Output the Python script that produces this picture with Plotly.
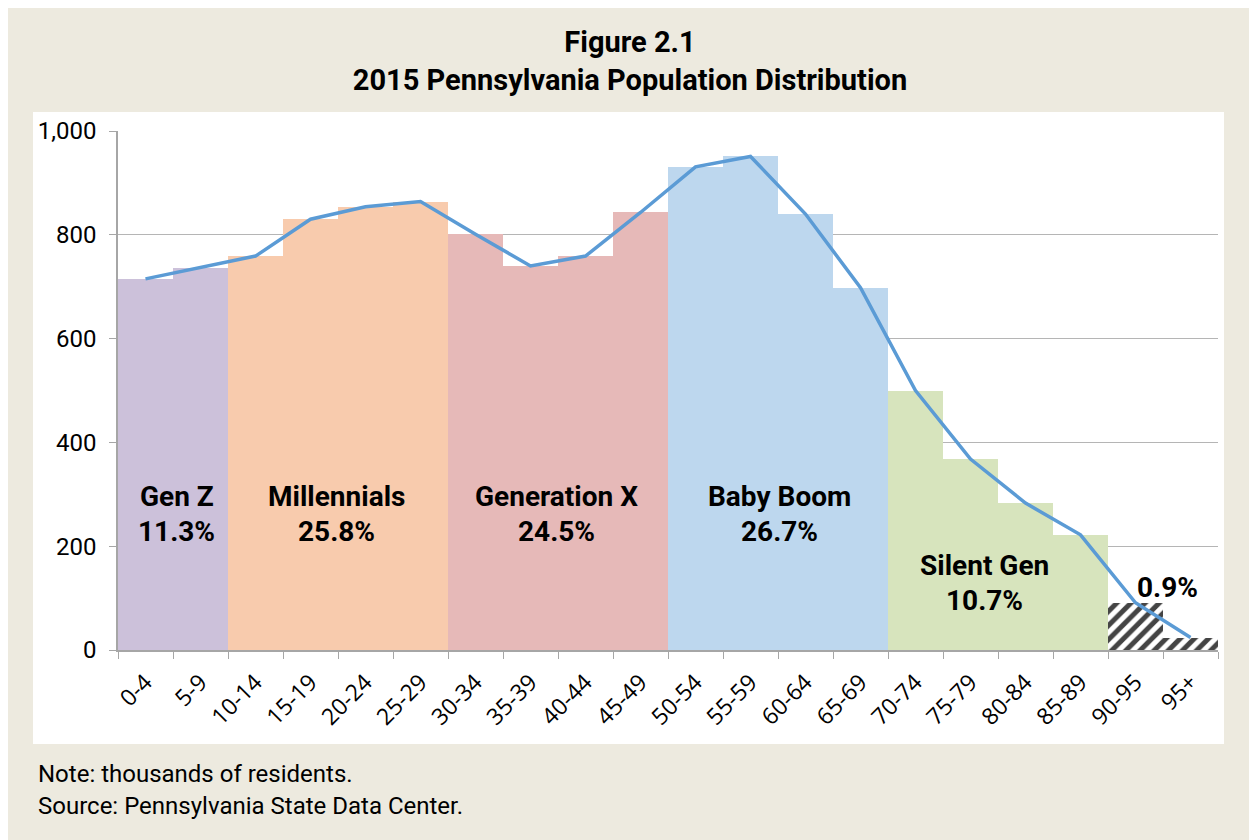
import plotly.graph_objects as go

age_groups = ["0-4", "5-9", "10-14", "15-19", "20-24", "25-29", "30-34", "35-39",
              "40-44", "45-49", "50-54", "55-59", "60-64", "65-69", "70-74", "75-79",
              "80-84", "85-89", "90-95", "95+"]
population = [715, 737, 759, 830, 854, 864, 801, 740, 759, 843, 931, 951, 840, 698,
              500, 368, 283, 222, 91, 24]
generation = ["Gen Z"] * 2 + ["Millennials"] * 4 + ["Generation X"] * 4 + \
             ["Baby Boom"] * 4 + ["Silent Gen"] * 4 + ["Oldest"] * 2
gen_colors = {"Gen Z": "#CCC1DA", "Millennials": "#F8CBAD", "Generation X": "#E6B9B8",
              "Baby Boom": "#BDD7EE", "Silent Gen": "#D7E4BD", "Oldest": "#FFFFFF"}
gen_names = ["Gen Z", "Millennials", "Generation X", "Baby Boom", "Silent Gen", ""]
gen_shares = ["11.3%", "25.8%", "24.5%", "26.7%", "10.7%", "0.9%"]
label_x = [0.57, 3.48, 7.48, 11.52, 15.26, 18.59]
name_y = [295, 295, 295, 295, 162, None]
share_y = [229, 229, 229, 229, 96, 121]

bar_colors = [gen_colors[g] for g in generation]
patterns = ["/" if g == "Oldest" else "" for g in generation]

fig = go.Figure()
fig.add_trace(go.Bar(
    x=age_groups, y=population,
    marker=dict(color=bar_colors, line=dict(width=0),
                pattern=dict(shape=patterns, fgcolor="black", fgopacity=1,
                             size=10, solidity=0.5)),
    width=1.0, hoverinfo="x+y", showlegend=False))
fig.add_trace(go.Scatter(
    x=age_groups, y=population, mode="lines",
    line=dict(color="#5B9BD5", width=3.5), showlegend=False))

lab_font = dict(family="Roboto", size=28, color="black")
for name, share, xx, ny, sy in zip(gen_names, gen_shares, label_x, name_y, share_y):
    if name:
        fig.add_annotation(x=xx, y=ny, xref="x", yref="y", text="<b>" + name + "</b>",
                           showarrow=False, font=lab_font)
    fig.add_annotation(x=xx, y=sy, xref="x", yref="y", text="<b>" + share + "</b>",
                       showarrow=False, font=lab_font)

fig.add_shape(type="rect", xref="paper", yref="paper",
              x0=(33 - 118) / 1100, x1=(1224 - 118) / 1100,
              y0=(650 - 744) / 519, y1=(650 - 112) / 519,
              fillcolor="white", line=dict(width=0), layer="below")

fig.add_annotation(xref="paper", yref="paper", x=(36 - 118) / 1100, y=(650 - 774) / 519,
                   xanchor="left", yanchor="middle", showarrow=False, align="left",
                   text="Note: thousands of residents.",
                   font=dict(family="Roboto", size=24, color="black"))
fig.add_annotation(xref="paper", yref="paper", x=(36 - 118) / 1100, y=(650 - 806) / 519,
                   xanchor="left", yanchor="middle", showarrow=False, align="left",
                   text="Source: Pennsylvania State Data Center.",
                   font=dict(family="Roboto", size=24, color="black"))

fig.update_layout(
    width=1257, height=840,
    margin=dict(l=110, r=47, t=123, b=198),
    paper_bgcolor="#EDEADF", plot_bgcolor="white",
    title=dict(text="<b>Figure 2.1<br>2015 Pennsylvania Population Distribution</b>",
               x=(630 - 8) / 1257, xanchor="center", y=1 - 44 / 840, yanchor="middle",
               font=dict(family="Roboto", size=29, color="black")),
    bargap=0,
)
fig.update_xaxes(type="category", showline=True, linecolor="#A6A6A6", linewidth=1.5,
                 ticks="outside", tickson="boundaries", ticklen=7, tickcolor="#A6A6A6",
                 tickangle=-45, ticklabelstandoff=8,
                 tickfont=dict(family="Open Sans", size=23, color="black"),
                 showgrid=False)
fig.update_yaxes(range=[0, 1000], dtick=200, tickformat=",", showline=True,
                 linecolor="#A6A6A6", linewidth=1.5, ticks="outside", ticklen=7,
                 tickcolor="#A6A6A6", showgrid=True, gridcolor="#B5B5B5", gridwidth=1,
                 ticklabelstandoff=8,
                 tickfont=dict(family="Roboto", size=24, color="black"), zeroline=False)

fig.write_html("out.html")
